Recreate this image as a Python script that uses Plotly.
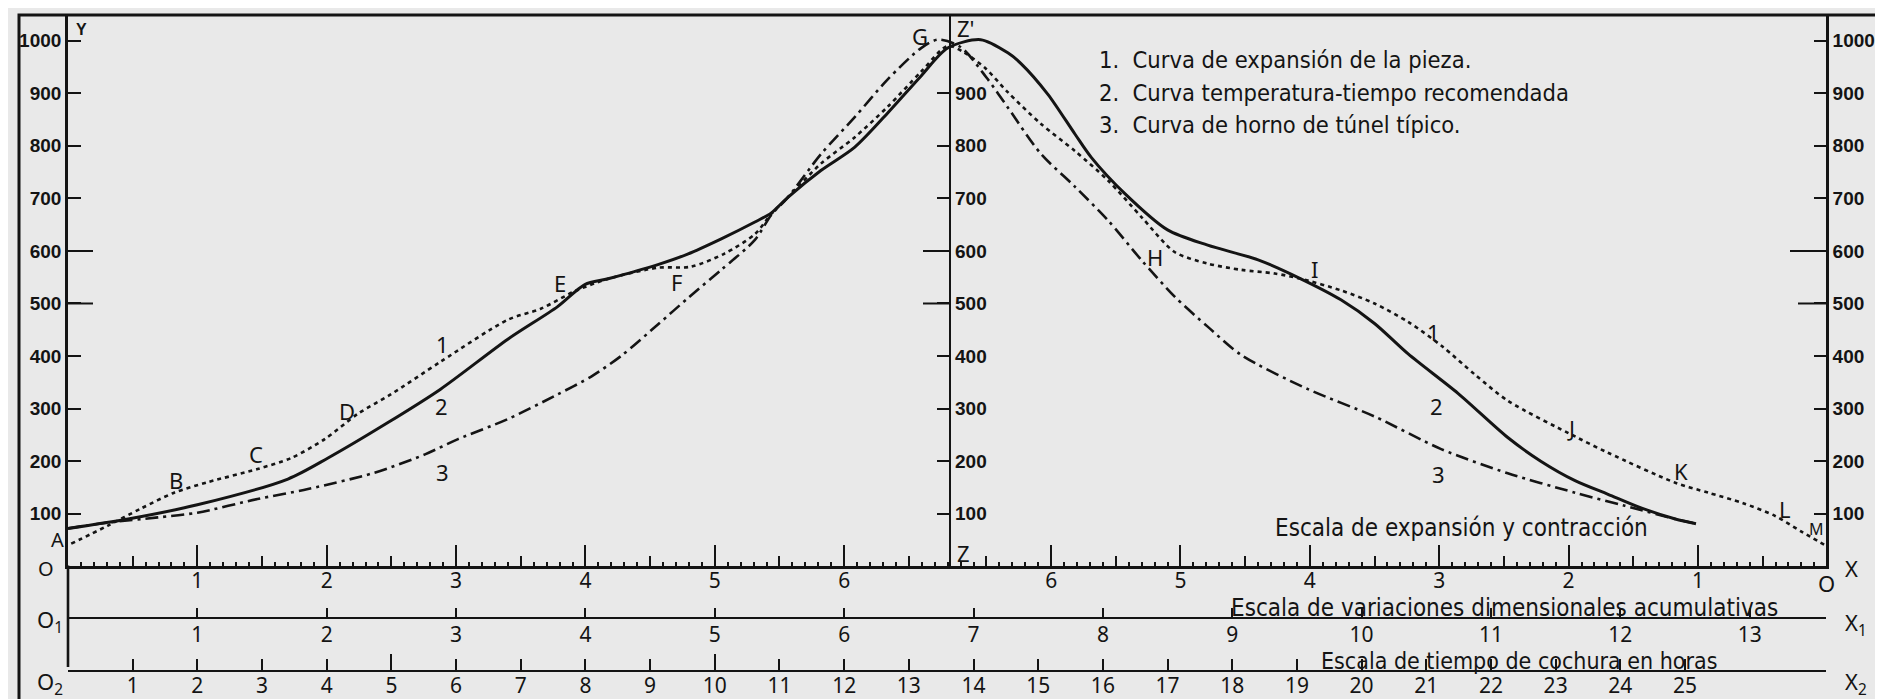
import plotly.graph_objects as go

# ---------------- data ----------------
# x = firing time in hours (bottom scale), y = temperature (left scale)
c1_h = [0.05, 0.61, 1.13, 1.64, 2.16, 2.93, 3.45, 3.97, 4.48, 4.99, 5.77, 6.80, 7.31, 7.83,
        8.35, 9.12, 9.63, 10.15, 10.62, 10.87, 11.13, 11.64, 12.16, 12.67, 13.19, 13.6,
        13.85, 14.18, 14.53, 15.04, 15.57, 16.08, 16.6, 17.11, 17.62, 18.14, 18.66, 19.06,
        19.68, 20.2, 20.72, 21.25, 21.75, 22.26, 23.3, 23.81, 24.85, 25.36, 25.9, 26.39,
        26.8, 27.17]
c1_v = [43, 77, 110, 140, 160, 185, 206, 242, 290, 327, 390, 469, 490, 523,
        547, 568, 570, 595, 632, 670, 702, 766, 816, 874, 941, 990,
        978, 948, 902, 842, 790, 734, 664, 598, 576, 564, 557, 547,
        525, 500, 465, 418, 365, 315, 247, 216, 159, 140, 120, 96,
        66, 40]

c2_h = [0.0, 0.93, 2.0, 3.4, 4.02, 4.94, 5.76, 6.80, 7.57, 7.99, 8.35, 9.12, 9.58, 10.1,
        10.62, 10.87, 11.13, 11.64, 12.16, 12.67, 13.19, 13.6, 14.11, 14.53, 14.73, 15.15,
        15.57, 15.82, 16.34, 17.0, 17.62, 18.4, 19.06, 19.68, 20.2, 20.72, 21.49, 22.26,
        22.77, 23.3, 23.81, 24.32, 24.85, 25.17]
c2_v = [72, 90, 117, 166, 206, 273, 337, 432, 494, 536, 547, 574, 594, 623,
        655, 672, 702, 753, 797, 862, 933, 986, 1002, 977, 957, 898,
        822, 778, 709, 640, 611, 583, 547, 507, 462, 404, 329, 245,
        200, 163, 137, 111, 90, 81]

c3_h = [0.0, 0.61, 1.39, 2.0, 2.93, 3.71, 4.74, 5.52, 6.03, 6.80, 7.57, 8.09, 8.55, 9.12,
        9.6, 10.1, 10.62, 10.87, 11.13, 11.64, 12.16, 12.67, 13.19, 13.45, 13.8, 14.2,
        14.53, 15.04, 15.57, 16.08, 16.6, 17.11, 17.62, 18.14, 19.17, 20.2, 21.23, 22.26,
        23.3, 24.07, 24.85, 25.17]
c3_v = [72, 83, 93, 102, 128, 147, 178, 213, 242, 280, 327, 361, 400, 460,
        512, 564, 621, 668, 702, 784, 854, 926, 986, 1002, 988, 930,
        873, 785, 722, 658, 582, 513, 456, 402, 337, 285, 223, 177,
        140, 115, 90, 81]

temp_ticks = [100, 200, 300, 400, 500, 600, 700, 800, 900, 1000]
z_ticks = [100, 200, 300, 400, 500, 600, 700, 800, 900]
exp_labels = ["1", "2", "3", "4", "5", "6"]          # expansion scale (mirrored)
cum_labels = list(range(1, 14))                        # cumulative variation scale
hour_labels = list(range(1, 26))                       # firing time scale

legend_lines = ["1.  Curva de expansión de la pieza.",
                "2.  Curva temperatura-tiempo recomendada",
                "3.  Curva de horno de túnel típico."]

# ---------------- geometry ----------------
W, H = 1883, 699
ML, MR, MT, MB = 60, 65, 8, 33
PW, PH = W - ML - MR, H - MT - MB
HMAX = 27.18          # hours across the plot width
RO = 27.2             # right origin of the mirrored expansion scale
YMAX = 1047


def px(x):
    return (x - ML) / PW


def py(y):
    return (H - MB - y) / PH


INK = "#141414"
BG = "#e9e9e9"
NARROW = "Liberation Sans Narrow, Arial Narrow, DejaVu Sans Condensed, sans-serif"
GEO = "Noto Sans, DejaVu Sans, sans-serif"
BOLD = "Liberation Sans, Arial, sans-serif"

fig = go.Figure()
fig.add_trace(go.Scatter(x=c1_h, y=c1_v, mode="lines", line_shape="spline",
                         line=dict(color=INK, width=2.6, dash="4px,4px", smoothing=0.8),
                         showlegend=False, hoverinfo="skip"))
fig.add_trace(go.Scatter(x=c2_h, y=c2_v, mode="lines", line_shape="spline",
                         line=dict(color=INK, width=3, smoothing=0.8),
                         showlegend=False, hoverinfo="skip"))
fig.add_trace(go.Scatter(x=c3_h, y=c3_v, mode="lines", line_shape="spline",
                         line=dict(color=INK, width=2.6, dash="13px,5px,3px,5px", smoothing=0.8),
                         showlegend=False, hoverinfo="skip"))
# empty traces so that every auxiliary axis gets drawn
for xa, ya in [("x2", "y"), ("x3", "y"), ("x4", "y"), ("x5", "y"), ("x", "y2"), ("x", "y3")]:
    fig.add_trace(go.Scatter(x=[None], y=[None], xaxis=xa, yaxis=ya, showlegend=False,
                             hoverinfo="skip"))

# expansion scale ticks (mirrored about Z)
major_vals = [2 * (i + 1) for i in range(6)] + [RO - 2 * (i + 1) for i in range(6)]
major_text = exp_labels + exp_labels
medium_vals = [2 * i + 1 for i in range(7)] + [RO - (2 * i + 1) for i in range(7)]
minor_vals = ([round(0.2 * k, 3) for k in range(1, 69) if k % 5 != 0] +
              [round(RO - 0.2 * k, 3) for k in range(1, 68) if k % 5 != 0])

num_font = dict(family=GEO, size=21, color=INK)
ax_common = dict(showgrid=False, zeroline=False, tickcolor=INK, linecolor=INK)
ybold = dict(family=BOLD, size=19, color=INK, weight="bold")

fig.update_layout(
    width=W, height=H,
    margin=dict(l=ML, r=MR, t=MT, b=MB, pad=0),
    paper_bgcolor=BG, plot_bgcolor=BG,
    xaxis=dict(domain=[0, 1], range=[0, HMAX], anchor="y", showline=True, linewidth=2.5,
               ticks="inside", ticklen=22, tickwidth=2, tickmode="array",
               tickvals=major_vals, ticktext=major_text, tickfont=num_font,
               ticklabelstandoff=-6,
               minor=dict(tickmode="array", tickvals=minor_vals, ticks="inside",
                          ticklen=5, tickwidth=1.5, tickcolor=INK, showgrid=False),
               **ax_common),
    xaxis4=dict(overlaying="x", anchor="y", range=[0, HMAX], tickmode="array",
                tickvals=medium_vals, ticks="inside", ticklen=10, tickwidth=1.6,
                showticklabels=False, showline=False, **ax_common),
    xaxis2=dict(overlaying="x", anchor="free", position=py(613), range=[0, HMAX / 2],
                tickmode="array", tickvals=cum_labels, ticktext=[str(v) for v in cum_labels],
                ticks="inside", ticklen=9, tickwidth=1.8, showline=True, linewidth=2.2,
                tickfont=num_font, ticklabelstandoff=-3, **ax_common),
    xaxis3=dict(overlaying="x", anchor="free", position=0, range=[0, HMAX],
                tickmode="array", tickvals=hour_labels, ticktext=[str(v) for v in hour_labels],
                ticks="inside", ticklen=11, tickwidth=1.8, showline=True, linewidth=2.2,
                tickfont=num_font, ticklabelstandoff=-4, **ax_common),
    xaxis5=dict(overlaying="x", anchor="free", position=0, range=[0, HMAX],
                tickmode="array", tickvals=[5, 10], ticks="inside", ticklen=17,
                tickwidth=1.8, showticklabels=False, showline=False, **ax_common),
    yaxis=dict(domain=[py(560.8), 1], range=[0, YMAX], side="left", showline=True,
               linewidth=2.6, ticks="inside", ticklen=13, tickwidth=2,
               tickmode="array", tickvals=temp_ticks, ticktext=[str(v) for v in temp_ticks],
               tickfont=ybold, **ax_common),
    yaxis2=dict(overlaying="y", anchor="free", position=px(942), side="right",
                range=[0, YMAX], showline=True, linewidth=2.4, ticks="inside", ticklen=12,
                tickwidth=2, tickmode="array", tickvals=z_ticks,
                ticktext=[str(v) for v in z_ticks], tickfont=ybold, **ax_common),
    yaxis3=dict(overlaying="y", anchor="x", side="right", range=[0, YMAX], showline=True,
                linewidth=2.6, ticks="inside", ticklen=12, tickwidth=2, tickmode="array",
                tickvals=temp_ticks, ticktext=[str(v) for v in temp_ticks],
                tickfont=ybold, **ax_common),
)

shapes = [
    # outer frame
    dict(type="rect", xref="paper", yref="paper", x0=px(11), x1=px(1870), y0=py(697),
         y1=py(7), line=dict(color=INK, width=3)),
    # left axis continues down to the time scale
    dict(type="line", xref="paper", yref="paper", x0=0, x1=0, y0=py(560), y1=py(662),
         line=dict(color=INK, width=2.6)),
]
# longer ticks at 500 and 600
for v in (500, 600):
    shapes.append(dict(type="line", xref="paper", yref="y", x0=0, x1=px(85), y0=v, y1=v,
                       line=dict(color=INK, width=2)))
    shapes.append(dict(type="line", xref="paper", yref="y", x0=px(915), x1=px(942), y0=v,
                       y1=v, line=dict(color=INK, width=2)))
    shapes.append(dict(type="line", xref="paper", yref="y", x0=px(1782 if v == 600 else 1790),
                       x1=1, y0=v, y1=v, line=dict(color=INK, width=2)))
fig.update_layout(shapes=shapes)

ann = []


def txt(x, y, s, size=22, family=GEO, xanchor="center", weight="normal"):
    ann.append(dict(x=px(x), y=py(y), xref="paper", yref="paper", text=s, showarrow=False,
                    xanchor=xanchor, yanchor="middle", borderpad=0,
                    font=dict(family=family, size=size, color=INK, weight=weight)))


for s, x, y in [("B", 168, 474), ("C", 248, 448), ("D", 339, 405),
                ("1", 434, 337), ("2", 433, 400), ("3", 434, 466),
                ("E", 552, 276), ("F", 668, 275), ("G", 912, 28), ("Z'", 958, 20),
                ("H", 1147, 250), ("I", 1306, 262), ("1", 1425, 325), ("2", 1428, 400),
                ("3", 1430, 468), ("J", 1563, 422), ("K", 1673, 465), ("L", 1777, 503),
                ("Z", 955, 547), ("O<sub>1</sub>", 42, 616),
                ("O<sub>2</sub>", 42, 678), ("X", 1843, 563), ("O", 1818, 578),
                ("X<sub>1</sub>", 1848, 619), ("X<sub>2</sub>", 1848, 678)]:
    txt(x, y, s)
txt(49, 534, "A", size=20)
txt(38, 563, "O", size=20)
txt(1808, 523, "M", size=16)
txt(73, 22, "Y", size=16, family=BOLD, weight="bold")

for i, s in enumerate(legend_lines):
    txt(1090, 52 + 33 * i, s, size=23.5, family=NARROW, xanchor="left")
txt(1453, 522, "Escala de expansión y contracción", size=24, family=NARROW)
txt(1496, 603, "Escala de variaciones dimensionales acumulativas", size=24, family=NARROW)
txt(1511, 656, "Escala de tiempo de cochura en horas", size=23, family=NARROW)

fig.update_layout(annotations=ann)
fig.write_html("out.html")
